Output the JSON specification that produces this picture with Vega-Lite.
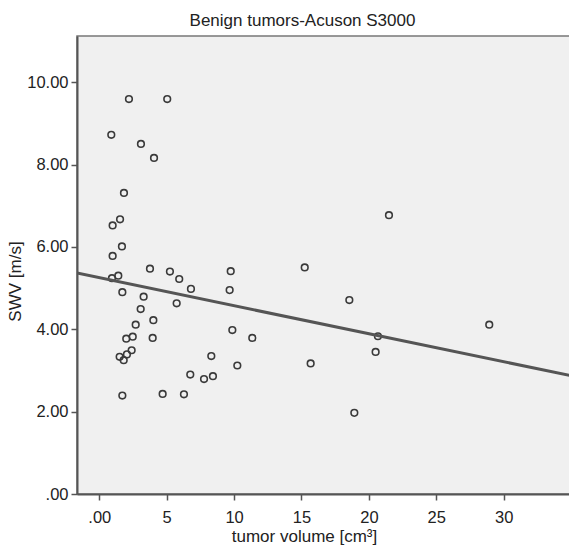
{
  "$schema": "https://vega.github.io/schema/vega-lite/v6.json",
  "autosize": {"type": "none"},
  "padding": {"left": 77, "top": 36, "right": 0, "bottom": 52},
  "width": 493,
  "height": 458,
  "background": "#ffffff",
  "title": {
    "text": "Benign tumors-Acuson S3000",
    "font": "Liberation Sans",
    "fontSize": 17,
    "fontWeight": "normal",
    "color": "#222222",
    "anchor": "middle",
    "dx": -21,
    "dy": 17,
    "offset": 10,
    "baseline": "alphabetic"
  },
  "config": {
    "view": {"fill": "#f0f0f0", "stroke": "#777777", "strokeWidth": 1.5},
    "axis": {
      "grid": false,
      "domainColor": "#555555",
      "domainWidth": 2,
      "tickColor": "#555555",
      "tickWidth": 1.5,
      "tickSize": 6,
      "labelFont": "Liberation Sans",
      "labelFontSize": 16.5,
      "labelColor": "#222222",
      "titleFont": "Liberation Sans",
      "titleFontSize": 17,
      "titleFontWeight": "normal",
      "titleColor": "#222222"
    }
  },
  "data": {
    "values": [
      {"volume": 2.20, "swv": 9.59},
      {"volume": 5.04, "swv": 9.59},
      {"volume": 0.89, "swv": 8.72},
      {"volume": 3.09, "swv": 8.50},
      {"volume": 4.06, "swv": 8.16},
      {"volume": 1.83, "swv": 7.31},
      {"volume": 1.54, "swv": 6.67},
      {"volume": 0.99, "swv": 6.52},
      {"volume": 1.68, "swv": 6.01},
      {"volume": 0.99, "swv": 5.78},
      {"volume": 1.41, "swv": 5.30},
      {"volume": 0.94, "swv": 5.24},
      {"volume": 1.71, "swv": 4.90},
      {"volume": 3.76, "swv": 5.47},
      {"volume": 5.24, "swv": 5.40},
      {"volume": 5.93, "swv": 5.22},
      {"volume": 6.80, "swv": 4.98},
      {"volume": 5.74, "swv": 4.63},
      {"volume": 3.29, "swv": 4.79},
      {"volume": 3.07, "swv": 4.49},
      {"volume": 4.01, "swv": 4.22},
      {"volume": 2.70, "swv": 4.11},
      {"volume": 2.48, "swv": 3.82},
      {"volume": 2.00, "swv": 3.77},
      {"volume": 3.96, "swv": 3.79},
      {"volume": 2.40, "swv": 3.49},
      {"volume": 2.05, "swv": 3.39},
      {"volume": 1.51, "swv": 3.33},
      {"volume": 1.81, "swv": 3.25},
      {"volume": 1.71, "swv": 2.39},
      {"volume": 4.70, "swv": 2.43},
      {"volume": 6.28, "swv": 2.42},
      {"volume": 6.75, "swv": 2.90},
      {"volume": 7.77, "swv": 2.79},
      {"volume": 8.43, "swv": 2.86},
      {"volume": 8.31, "swv": 3.35},
      {"volume": 9.75, "swv": 5.41},
      {"volume": 9.67, "swv": 4.95},
      {"volume": 9.87, "swv": 3.98},
      {"volume": 11.35, "swv": 3.79},
      {"volume": 10.24, "swv": 3.12},
      {"volume": 15.24, "swv": 5.50},
      {"volume": 18.55, "swv": 4.71},
      {"volume": 28.93, "swv": 4.11},
      {"volume": 20.67, "swv": 3.83},
      {"volume": 20.50, "swv": 3.45},
      {"volume": 15.68, "swv": 3.17},
      {"volume": 18.92, "swv": 1.97},
      {"volume": 21.49, "swv": 6.77}
    ]
  },
  "encoding": {
    "x": {
      "field": "volume",
      "type": "quantitative",
      "scale": {"domain": [-1.654, 34.92], "nice": false, "zero": false},
      "axis": {
        "title": "tumor volume [cm³]",
        "values": [0, 5, 10, 15, 20, 25, 30],
        "labelExpr": "datum.value == 0 ? '.00' : format(datum.value, 'd')",
        "labelBaseline": "alphabetic",
        "labelPadding": 22,
        "titleX": 227,
        "titleY": 47,
        "titleBaseline": "alphabetic",
        "titleAnchor": "middle",
        "titleAlign": "center"
      }
    },
    "y": {
      "field": "swv",
      "type": "quantitative",
      "scale": {"domain": [0, 11.12], "nice": false, "zero": false},
      "axis": {
        "title": "SWV [m/s]",
        "values": [0, 2, 4, 6, 8, 10],
        "labelExpr": "datum.value == 0 ? '.00' : format(datum.value, '.2f')",
        "labelPadding": 3,
        "titleX": -57,
        "titleY": 245,
        "titleBaseline": "alphabetic",
        "titleAlign": "center",
        "titleAngle": -90
      }
    }
  },
  "layer": [
    {
      "mark": {"type": "point", "shape": "circle", "filled": false, "size": 44, "stroke": "#3a3a3a", "strokeWidth": 1.6, "opacity": 1}
    },
    {
      "transform": [
        {"regression": "swv", "on": "volume", "extent": [-1.654, 34.92]}
      ],
      "mark": {"type": "line", "color": "#555555", "strokeWidth": 3, "clip": true}
    }
  ]
}
